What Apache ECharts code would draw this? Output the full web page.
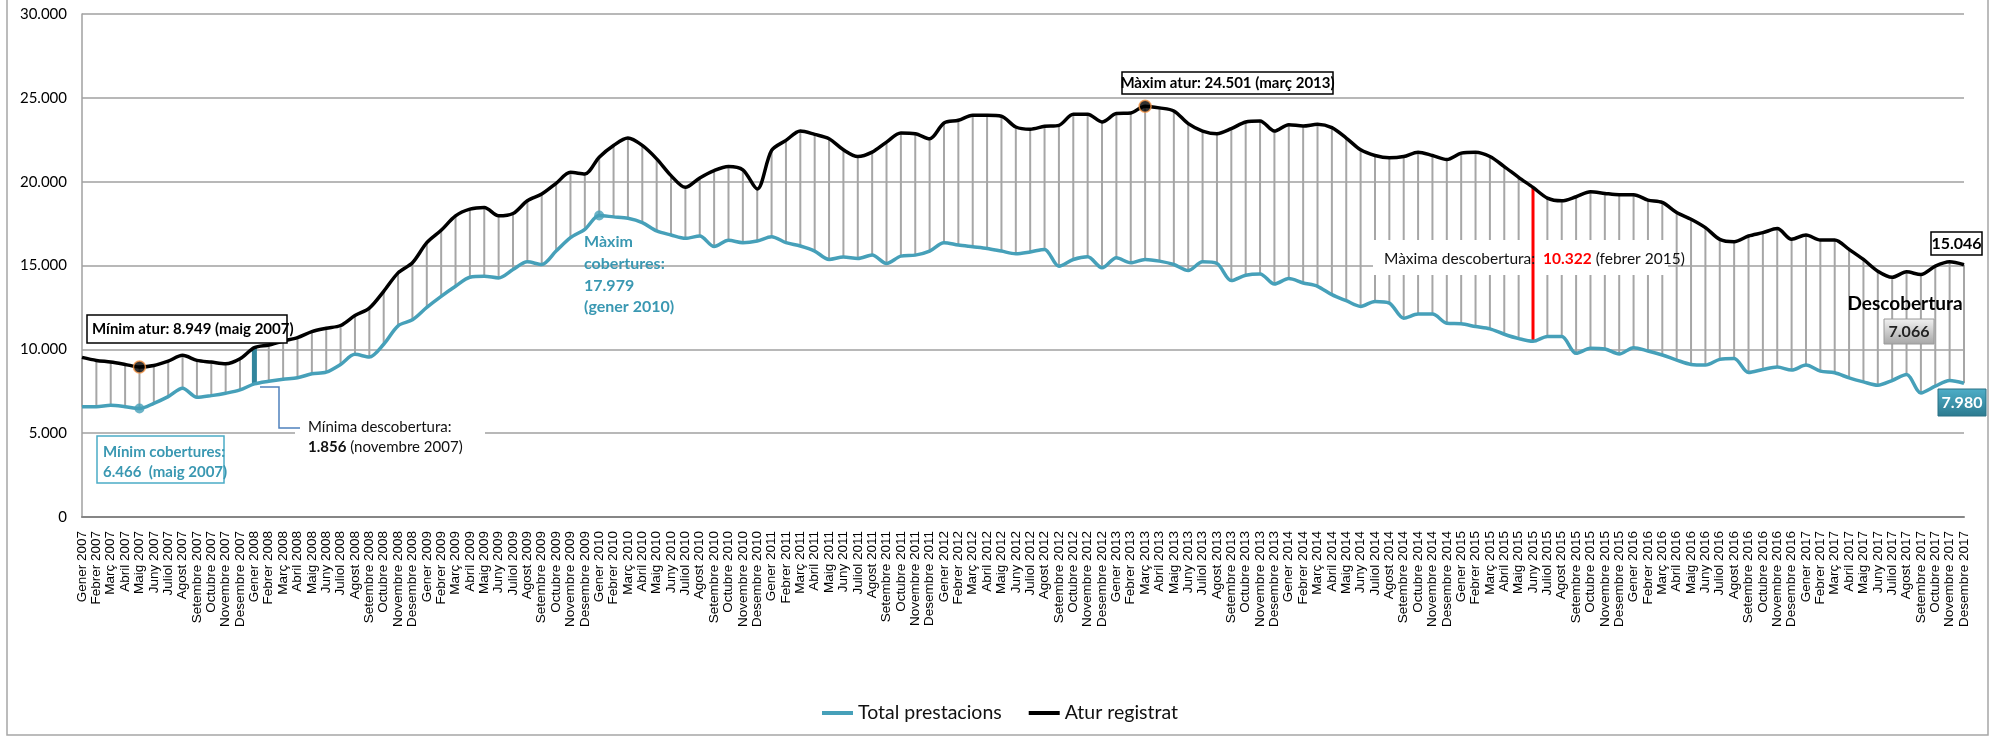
<!DOCTYPE html>
<html><head><meta charset="utf-8">
<script src="https://cdn.jsdelivr.net/npm/echarts@6/dist/echarts.min.js"></script>
<style>html,body{margin:0;padding:0;background:#fff}#c{width:1993px;height:736px}</style>
</head><body><div id="c"></div>
<script>
const months = ['Gener','Febrer','Març','Abril','Maig','Juny','Juliol','Agost','Setembre','Octubre','Novembre','Desembre'];
const years = [2007,2008,2009,2010,2011,2012,2013,2014,2015,2016,2017];
const categories = [];
years.forEach(y => months.forEach(m => categories.push(m + ' ' + y)));

const aturRegistrat = [
 9520,9340,9240,9100,8949,9040,9300,9640,9340,9240,9140,9440,
 10100,10260,10500,10700,11060,11260,11420,12020,12460,13460,14560,15160,
 16360,17100,17960,18360,18460,17960,18100,18860,19260,19900,20560,20460,
 21460,22160,22600,22160,21360,20360,19660,20220,20660,20900,20700,19560,
 21860,22460,23020,22820,22560,21900,21500,21760,22360,22900,22860,22560,
 23500,23660,23960,23960,23900,23260,23130,23300,23360,24020,24020,23560,
 24060,24100,24501,24400,24220,23460,23020,22860,23160,23560,23620,23020,
 23400,23320,23420,23220,22600,21900,21560,21420,21500,21760,21560,21320,
 21700,21760,21500,20900,20260,19660,19020,18860,19100,19400,19300,19220,
 19220,18900,18760,18160,17760,17260,16560,16420,16760,16960,17200,16560,
 16820,16520,16520,15960,15360,14660,14300,14620,14460,14960,15220,15046
];
const totalPrestacions = [
 6580,6580,6660,6580,6466,6780,7180,7680,7140,7240,7380,7580,
 7940,8100,8220,8300,8540,8640,9100,9700,9540,10300,11400,11760,
 12500,13160,13760,14300,14360,14260,14760,15220,15060,15860,16660,17160,
 17979,17900,17820,17560,17060,16820,16620,16760,16130,16500,16360,16460,
 16720,16360,16160,15860,15360,15500,15420,15620,15120,15560,15620,15860,
 16360,16220,16120,16020,15860,15700,15810,15960,14960,15360,15520,14860,
 15460,15160,15360,15260,15060,14700,15220,15120,14100,14420,14500,13900,
 14220,13960,13760,13260,12900,12560,12860,12760,11860,12100,12100,11560,
 11520,11360,11220,10900,10640,10480,10760,10760,9760,10060,10020,9720,
 10100,9900,9660,9360,9100,9060,9400,9460,8620,8800,8940,8760,
 9060,8700,8600,8300,8060,7860,8140,8500,7400,7800,8140,7980
];
const yTicks = [0,5000,10000,15000,20000,25000,30000];

const minAturIdx = 4, maxAturIdx = 74, minCobIdx = 4, maxCobIdx = 36;
const minDescIdx = 12, maxDescIdx = 101;

const TEAL = '#46a0b9', TEAL_DARK = '#31859c', TEAL_TXT = '#3a98b2';
const CAL = 'Lato, "Noto Sans", sans-serif';

const fmt = v => String(v).replace(/\B(?=(\d{3})+(?!\d))/g, '.');

function dropSeries(data, color, width, z, name) {
  return {
    type: 'custom', name: name, z: z, silent: true,
    renderItem: (params, api) => {
      const a = api.coord([api.value(0), api.value(1)]);
      const b = api.coord([api.value(0), api.value(2)]);
      return { type: 'line', shape: { x1: a[0], y1: a[1], x2: b[0], y2: b[1] },
               style: { stroke: color, lineWidth: width } };
    },
    encode: { x: 0, y: [1, 2] },
    data: data
  };
}

const allDrop = categories.map((c, i) => [i, aturRegistrat[i], totalPrestacions[i]]);

function box(x, y, w, h, stroke, fill, lw, z) {
  return { type: 'rect', z: z || 10, shape: { x: x, y: y, width: w, height: h },
           style: { fill: fill, stroke: stroke, lineWidth: lw } };
}
function txt(x, y, text, font, fill, align, z, rich) {
  const s = { text: text, x: x, y: y, font: font, fill: fill, align: align || 'left', verticalAlign: 'middle' };
  if (rich) s.rich = rich;
  return { type: 'text', z: z || 11, style: s };
}

const chart = echarts.init(document.getElementById('c'));
chart.setOption({
  animation: false,
  backgroundColor: '#fff',
  grid: { left: 82, right: 29, top: 14, bottom: 219, containLabel: false },
  legend: {
    data: ['Total prestacions', 'Atur registrat'],
    left: 817, top: 698, icon: 'rect', itemWidth: 31, itemHeight: 4, itemGap: 27, itemTextGap: 2,
    textStyle: { fontFamily: CAL, fontSize: 19.5, color: '#111' }
  },
  xAxis: {
    type: 'category', data: categories, boundaryGap: false,
    axisLine: { lineStyle: { color: '#868686', width: 2 } },
    axisTick: { show: false },
    axisLabel: { interval: 0, rotate: 90, margin: 14, fontFamily: '"Liberation Sans", Arial, sans-serif', fontSize: 13.5, color: '#000' },
    splitLine: { show: false }
  },
  yAxis: {
    type: 'value', min: yTicks[0], max: yTicks[yTicks.length - 1], interval: yTicks[1] - yTicks[0],
    axisLine: { show: true, lineStyle: { color: '#a0a0a0', width: 1.5 } },
    axisTick: { show: false },
    axisLabel: { margin: 15, fontFamily: CAL, fontSize: 15, color: '#000', formatter: v => fmt(v) },
    splitLine: { lineStyle: { color: '#a0a0a0', width: 1.5 } }
  },
  series: [
    dropSeries(allDrop, '#a6a6a6', 2, 2, 'drop'),
    dropSeries([allDrop[minDescIdx]], TEAL_DARK, 5, 4, 'minDesc'),
    dropSeries([allDrop[maxDescIdx]], '#ff0000', 3, 4, 'maxDesc'),
    { type: 'line', name: 'Total prestacions', data: totalPrestacions, smooth: 0.3, symbol: 'none', z: 5,
      lineStyle: { color: TEAL, width: 3.5 }, itemStyle: { color: TEAL } },
    { type: 'line', name: 'Atur registrat', data: aturRegistrat, smooth: 0.3, symbol: 'none', z: 5,
      lineStyle: { color: '#000', width: 3.5 }, itemStyle: { color: '#000' } },
    { type: 'scatter', name: 'mAtur', z: 6, symbolSize: 12, silent: true,
      itemStyle: { color: '#000', borderColor: '#f79646', borderWidth: 1.5 },
      data: [[minAturIdx, aturRegistrat[minAturIdx]], [maxAturIdx, aturRegistrat[maxAturIdx]]] },
    { type: 'scatter', name: 'mCob', z: 6, symbolSize: 10, silent: true,
      itemStyle: { color: TEAL },
      data: [[minCobIdx, totalPrestacions[minCobIdx]], [maxCobIdx, totalPrestacions[maxCobIdx]]] }
  ],
  graphic: { elements: [
    { type: 'rect', z: 0, shape: { x: 7, y: -1, width: 1981, height: 736 }, style: { fill: 'none', stroke: '#a6a6a6', lineWidth: 1.5 } },
    box(87, 315, 200, 28, '#000', '#fff', 1.5),
    txt(92, 329.5, 'Mínim atur: 8.949 (maig 2007)', 'bold 15px ' + CAL, '#000'),
    box(97, 436, 127, 47, '#4bacc6', '#fff', 1.5),
    txt(103, 452, 'Mínim cobertures:', 'bold 15px ' + CAL, TEAL_TXT),
    txt(103, 472, '6.466  (maig 2007)', 'bold 15px ' + CAL, TEAL_TXT),
    box(295, 416, 190, 40, 'none', '#fff', 0, 3),
    { type: 'polyline', z: 9, shape: { points: [[260, 387], [279, 387], [279, 428], [300, 428]] }, style: { stroke: '#4f81bd', lineWidth: 1.5, fill: 'none' } },
    txt(308, 427, 'Mínima descobertura:', '15px ' + CAL, '#111'),
    txt(308, 447, '{b|1.856} {r|(novembre 2007)}', '15px ' + CAL, '#111', 'left', 11,
        { b: { fontFamily: CAL, fontSize: 15, fontWeight: 'bold', fill: '#111' }, r: { fontFamily: CAL, fontSize: 15, fill: '#111' } }),
    txt(584, 242, 'Màxim', 'bold 16px ' + CAL, TEAL_TXT),
    txt(584, 264, 'cobertures:', 'bold 16px ' + CAL, TEAL_TXT),
    txt(584, 286, '17.979', 'bold 16px ' + CAL, TEAL_TXT),
    txt(584, 307, '(gener 2010)', 'bold 16px ' + CAL, TEAL_TXT),
    box(1122, 72, 211, 22, '#000', '#fff', 1.5),
    txt(1227.5, 83, 'Màxim atur: 24.501 (març 2013)', 'bold 15px ' + CAL, '#000', 'center'),
    box(1373, 240, 295, 35, 'none', '#fff', 0, 3),
    txt(1384, 259, '{a|Màxima descobertura:  }{b|10.322}{a| (febrer 2015)}', '15.5px ' + CAL, '#111', 'left', 11,
        { a: { fontFamily: CAL, fontSize: 15.5, fill: '#111' }, b: { fontFamily: CAL, fontSize: 15.5, fontWeight: 'bold', fill: '#ff0000' } }),
    box(1931, 232, 51, 23, '#000', '#fff', 1.5),
    txt(1956.5, 244, '15.046', 'bold 16px ' + CAL, '#000', 'center'),
    txt(1905, 304, 'Descobertura', 'bold 19px ' + CAL, '#000', 'center'),
    { type: 'rect', z: 10, shape: { x: 1884, y: 319, width: 50, height: 25 },
      style: { stroke: '#9a9a9a', lineWidth: 1, fill: new echarts.graphic.LinearGradient(0, 0, 0, 1, [{ offset: 0, color: '#f2f2f2' }, { offset: 1, color: '#a6a6a6' }]) } },
    txt(1909, 331.5, '7.066', 'bold 16px ' + CAL, '#222', 'center'),
    { type: 'rect', z: 10, shape: { x: 1938, y: 389, width: 48, height: 27 },
      style: { stroke: '#2a7184', lineWidth: 1, fill: new echarts.graphic.LinearGradient(0, 0, 0, 1, [{ offset: 0, color: '#4eaec8' }, { offset: 1, color: '#2c7a8f' }]) } },
    txt(1962, 403, '7.980', 'bold 16px ' + CAL, '#fff', 'center')
  ] }
});
</script></body></html>
